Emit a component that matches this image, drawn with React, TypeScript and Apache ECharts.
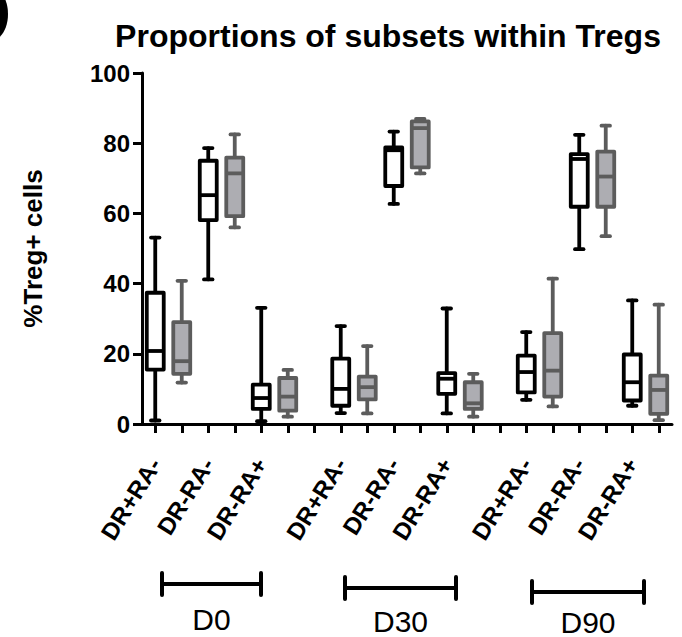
import React, { useEffect, useRef } from 'react';
import * as echarts from 'echarts';

const timepoints = ['D0', 'D30', 'D90'];
const subsets = ['DR+RA-', 'DR-RA-', 'DR-RA+'];
const yTicks = [0, 20, 40, 60, 80, 100];

// each row: [min, Q1, median, Q3, max] for DR+RA-, DR-RA-, DR-RA+
const blackD0 = [[1.0, 15.5, 20.8, 37.4, 53.1], [41.2, 58.1, 65.2, 75.0, 78.6], [0.8, 4.3, 7.4, 11.2, 33.1]];
const grayD0 = [[11.8, 14.3, 17.9, 29.0, 40.8], [56.0, 59.2, 71.4, 75.9, 82.5], [2.1, 3.8, 7.8, 13.1, 15.4]];
const blackD30 = [[3.1, 5.2, 10.0, 18.6, 27.9], [62.7, 67.8, 78.0, 78.8, 83.3], [3.0, 8.6, 12.9, 14.5, 32.9]];
const grayD30 = [[3.0, 7.0, 10.5, 13.5, 22.2], [71.4, 73.1, 84.3, 86.2, 86.9], [2.1, 4.3, 5.9, 11.9, 14.3]];
const blackD90 = [[6.9, 9.0, 14.8, 19.5, 26.2], [49.8, 61.9, 75.5, 76.9, 82.4], [5.2, 6.7, 11.9, 19.8, 35.2]];
const grayD90 = [[5.0, 7.8, 15.2, 25.9, 41.4], [53.5, 61.9, 70.5, 77.6, 85.0], [1.1, 2.9, 9.7, 13.8, 34.0]];

const blackGroups = [blackD0, blackD30, blackD90];
const grayGroups = [grayD0, grayD30, grayD90];

const FONT = '"Liberation Sans", Arial, Helvetica, sans-serif';
const SLOTS_PER_TIME = 7; // 6 boxes + 1 gap
const SLOT_COUNT = timepoints.length * SLOTS_PER_TIME - 1;

const slotLabels: string[] = Array.from({ length: SLOT_COUNT }, () => '');
timepoints.forEach((_, t) => subsets.forEach((s, k) => { slotLabels[t * SLOTS_PER_TIME + k * 2] = s; }));

function buildData(groups: number[][][], offset: number) {
  const out: number[][] = [];
  groups.forEach((g, t) => g.forEach((v, k) => out.push([t * SLOTS_PER_TIME + k * 2 + offset, ...v])));
  return out;
}

function makeRender(fill: string, stroke: string) {
  return (params: any, api: any) => {
    const x = api.value(0);
    const [cx, yMin] = api.coord([x, api.value(1)]);
    const yQ1 = api.coord([x, api.value(2)])[1];
    const yMed = api.coord([x, api.value(3)])[1];
    const yQ3 = api.coord([x, api.value(4)])[1];
    const yMax = api.coord([x, api.value(5)])[1];
    const slot = api.size([1, 0])[0];
    const bw = slot * 0.64;
    const cw = slot * 0.32;
    const lw = 3.8;
    const lineStyle = { stroke, lineWidth: lw, lineCap: 'round' };
    return {
      type: 'group',
      children: [
        { type: 'line', shape: { x1: cx, y1: yMin, x2: cx, y2: yQ1 }, style: lineStyle },
        { type: 'line', shape: { x1: cx, y1: yQ3, x2: cx, y2: yMax }, style: lineStyle },
        { type: 'line', shape: { x1: cx - cw / 2, y1: yMin, x2: cx + cw / 2, y2: yMin }, style: lineStyle },
        { type: 'line', shape: { x1: cx - cw / 2, y1: yMax, x2: cx + cw / 2, y2: yMax }, style: lineStyle },
        {
          type: 'rect',
          shape: { x: cx - bw / 2, y: yQ3, width: bw, height: yQ1 - yQ3 },
          style: { fill, stroke, lineWidth: lw, lineJoin: 'round' },
        },
        { type: 'line', shape: { x1: cx - bw / 2, y1: yMed, x2: cx + bw / 2, y2: yMed }, style: { stroke, lineWidth: lw } },
      ],
    };
  };
}

export default function App() {
  const ref = useRef<HTMLDivElement>(null);
  useEffect(() => {
    document.body.style.margin = '0';
    if (!ref.current) return;
    const chart = echarts.init(ref.current, undefined, { renderer: 'svg' });

    const bracket = (x1: number, x2: number, y: number, label: string, ty: number) => ({
      type: 'group',
      children: [
        { type: 'line', shape: { x1, y1: y, x2, y2: y }, style: { stroke: '#000', lineWidth: 4 } },
        { type: 'line', shape: { x1, y1: y - 11, x2: x1, y2: y + 11 }, style: { stroke: '#000', lineWidth: 4, lineCap: 'round' } },
        { type: 'line', shape: { x1: x2, y1: y - 11, x2, y2: y + 11 }, style: { stroke: '#000', lineWidth: 4, lineCap: 'round' } },
        {
          type: 'text',
          x: (x1 + x2) / 2,
          y: ty,
          style: { text: label, font: `30px ${FONT}`, fill: '#000', textAlign: 'center', textVerticalAlign: 'middle' },
        },
      ],
    });

    chart.setOption({
      animation: false,
      backgroundColor: '#fff',
      grid: { left: 142, right: 10, top: 73, bottom: 213, containLabel: false },
      xAxis: {
        type: 'category',
        data: slotLabels.map((_, i) => String(i)),
        boundaryGap: true,
        axisLine: { show: true, lineStyle: { color: '#000', width: 3 } },
        axisTick: { show: true, alignWithLabel: true, interval: 0, length: 9, lineStyle: { color: '#000', width: 3 } },
        axisLabel: {
          interval: 0,
          rotate: 58,
          margin: 36,
          formatter: (_v: string, i: number) => slotLabels[i],
          color: '#000',
          fontFamily: FONT,
          fontWeight: 'bold',
          fontSize: 24,
        },
        splitLine: { show: false },
      },
      yAxis: {
        type: 'value',
        min: yTicks[0],
        max: yTicks[yTicks.length - 1],
        interval: yTicks[1] - yTicks[0],
        name: '%Treg+ cells',
        nameLocation: 'middle',
        nameRotate: 90,
        nameGap: 96,
        nameTextStyle: { color: '#000', fontFamily: FONT, fontWeight: 'bold', fontSize: 26 },
        axisLine: { show: true, lineStyle: { color: '#000', width: 3 } },
        axisTick: { show: true, length: 9, lineStyle: { color: '#000', width: 3 } },
        axisLabel: { color: '#000', fontFamily: FONT, fontWeight: 'bold', fontSize: 24, margin: 12 },
        splitLine: { show: false },
      },
      series: [
        {
          type: 'custom',
          name: 'black',
          renderItem: makeRender('#ffffff', '#000000'),
          encode: { x: 0, y: [1, 2, 3, 4, 5] },
          data: buildData(blackGroups, 0),
          z: 3,
        },
        {
          type: 'custom',
          name: 'gray',
          renderItem: makeRender('#adadb2', '#5c5c5c'),
          encode: { x: 0, y: [1, 2, 3, 4, 5] },
          data: buildData(grayGroups, 1),
          z: 3,
        },
      ],
      graphic: [
        { type: 'ellipse', shape: { cx: -8, cy: 14, rx: 16, ry: 26 }, style: { fill: '#000' } },
        {
          type: 'text',
          x: 388,
          y: 36,
          style: {
            text: 'Proportions of subsets within Tregs',
            font: `bold 32px ${FONT}`,
            fill: '#000',
            textAlign: 'center',
            textVerticalAlign: 'middle',
          },
        },
        bracket(162, 261, 584, timepoints[0], 619),
        bracket(345, 456, 588, timepoints[1], 621),
        bracket(532, 644, 592, timepoints[2], 622),
      ],
    });
    return () => chart.dispose();
  }, []);
  return <div ref={ref} style={{ width: 682, height: 637 }} />;
}
